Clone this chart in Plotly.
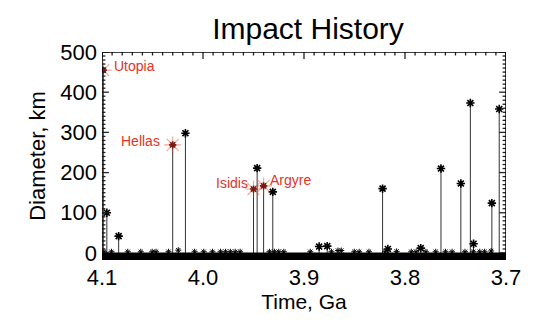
import plotly.graph_objects as go

# Large craters (time in Ga, diameter in km)
big_t = [4.0952, 4.0835, 4.0174, 3.9464, 3.9309, 3.8222, 3.7644, 3.7447, 3.7353, 3.714, 3.7067]
big_d = [100, 42, 298, 211, 152, 160, 210, 173, 373, 124, 358]

# Named basins
basin_names = ["Utopia", "Hellas", "Isidis", "Argyre"]
basin_t = [4.0987, 4.030, 3.950, 3.940]
basin_d = [455, 269, 159, 167]

# Medium craters
mid_t = [3.885, 3.877, 3.817, 3.7844, 3.7321]
mid_d = [16, 17, 10, 12, 23]

# Small craters near zero
small_t = [4.098, 4.0906, 4.0745, 4.0616, 4.0503, 4.0465, 4.0342, 4.0245, 4.0083, 3.9993,
           3.9906, 3.9826, 3.9777, 3.9729, 3.9681, 3.9632, 3.9342, 3.9293, 3.925, 3.920,
           3.8938, 3.8728, 3.8664, 3.8631, 3.8502, 3.8454, 3.8357, 3.8196, 3.8083, 3.7938,
           3.7890, 3.7793, 3.7696, 3.7599, 3.7534, 3.7406, 3.7324, 3.7260, 3.7212, 3.7147]
small_d = [3, 3, 3, 3, 3, 3, 3, 7, 3, 3,
           3, 3, 3, 3, 3, 3, 3, 3, 3, 3,
           3, 3, 6, 6, 3, 3, 3, 3, 4, 3,
           3, 3, 3, 3, 3, 3, 3, 3, 3, 5]

x_ticks = [4.1, 4.0, 3.9, 3.8, 3.7]
y_ticks = [0, 100, 200, 300, 400, 500]
x_range = [4.1, 3.7]
y_range = [-17.5, 500]

all_t = big_t + basin_t + mid_t + small_t
all_d = big_d + basin_d + mid_d + small_d

stem_x, stem_y = [], []
for t, d in zip(all_t, all_d):
    stem_x += [t, t, None]
    stem_y += [0, d, None]

# axis tick marks (inside, on all four sides), built from the axis ticks
x_minor = [round(3.7 + 0.01 * i, 3) for i in range(41)]
y_minor = list(range(0, 501, 10))
xpx = (x_range[0] - x_range[1]) / 413.0   # Ga per pixel
ypx = (y_range[1] - y_range[0]) / 208.0   # km per pixel
tick_x, tick_y = [], []
for v in x_minor:
    L = (7 if any(abs(v - m) < 1e-6 for m in x_ticks) else 3.5) * ypx
    tick_x += [v, v, None, v, v, None]
    tick_y += [y_range[0], y_range[0] + L, None, y_range[1], y_range[1] - L, None]
for v in y_minor:
    L = (7 if v in y_ticks else 3.5) * xpx
    tick_x += [x_range[0], x_range[0] - L, None, x_range[1], x_range[1] + L, None]
    tick_y += [v, v, None, v, v, None]

fig = go.Figure()
fig.add_trace(go.Scatter(x=stem_x, y=stem_y, mode="lines",
                         line=dict(color="#333333", width=1), hoverinfo="skip"))
fig.add_trace(go.Scatter(x=small_t, y=small_d, mode="markers",
                         marker=dict(symbol="asterisk-open", size=5, color="black",
                                     line=dict(color="black", width=1))))
fig.add_trace(go.Scatter(x=big_t + mid_t, y=big_d + mid_d, mode="markers",
                         marker=dict(symbol="asterisk-open", size=7, color="black",
                                     line=dict(color="black", width=1.6))))
fig.add_trace(go.Scatter(x=basin_t, y=basin_d, mode="markers",
                         marker=dict(symbol="asterisk-open", size=14,
                                     color="rgba(230,50,30,0.45)",
                                     line=dict(color="rgba(230,50,30,0.45)", width=1.1))))
fig.add_trace(go.Scatter(x=basin_t, y=basin_d, mode="markers",
                         marker=dict(symbol="asterisk-open", size=6, color="#7a1a10",
                                     line=dict(color="#7a1a10", width=1.6))))
# tick marks
fig.add_trace(go.Scatter(x=tick_x, y=tick_y, mode="lines",
                         line=dict(color="#222222", width=1.3), hoverinfo="skip"))
# frame drawn as a trace along the axis range
fig.add_trace(go.Scatter(x=[x_range[0], x_range[1], x_range[1], x_range[0], x_range[0]],
                         y=[y_range[0], y_range[0], y_range[1], y_range[1], y_range[0]],
                         mode="lines", line=dict(color="black", width=1.5),
                         hoverinfo="skip"))

# dense band of tiny craters along the bottom
fig.add_shape(type="rect", xref="x", yref="y", x0=4.1, x1=3.7, y0=-17.5, y1=1,
              fillcolor="black", line=dict(width=0), layer="above")

red = "#e8321e"
ann = [
    dict(x=4.0903, y=465, text="Utopia", xanchor="left"),
    dict(x=4.041, y=279, text="Hellas", xanchor="right"),
    dict(x=3.953, y=174, text="Isidis", xanchor="right"),
    dict(x=3.9354, y=182, text="Argyre", xanchor="left"),
]
for a in ann:
    fig.add_annotation(x=a["x"], y=a["y"], text=a["text"], xanchor=a["xanchor"],
                       yanchor="middle", showarrow=False,
                       font=dict(color=red, size=14, family="Liberation Sans, Arial, sans-serif"))

axis_common = dict(showline=False, ticks="", showgrid=False,
                   zeroline=False, tickfont=dict(size=22, color="black"))

fig.update_layout(
    width=525, height=315,
    margin=dict(l=94, r=18, t=44, b=63),
    paper_bgcolor="white", plot_bgcolor="white",
    showlegend=False,
    font=dict(family="Liberation Sans, Arial, sans-serif", color="black"),
    title=dict(text="Impact History", x=300 / 525,
               xanchor="center", y=1 - 20 / 315, yanchor="middle",
               font=dict(size=30, color="black")),
    xaxis=dict(range=x_range, tickvals=x_ticks, ticktext=[f"{v:.1f}" for v in x_ticks],
               title=dict(text="Time, Ga", font=dict(size=21), standoff=4),
               ticklabelstandoff=2, **axis_common),
    yaxis=dict(range=y_range, tickvals=y_ticks,
               title=dict(text="Diameter, km", font=dict(size=22), standoff=8),
               ticklabelstandoff=4, **axis_common),
)

fig.write_html("out.html")
